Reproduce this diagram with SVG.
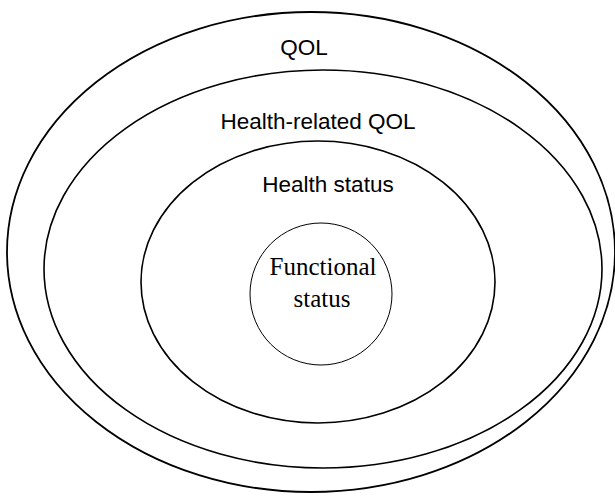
<svg xmlns="http://www.w3.org/2000/svg" width="615" height="496" viewBox="0 0 615 496">
<style>
.e{fill:none;stroke:#000}
.s{font-family:"Liberation Sans",Arial,sans-serif;font-size:22.5px;fill:#000;text-anchor:middle}
.r{font-family:"Liberation Serif","Times New Roman",serif;font-size:25px;fill:#000;text-anchor:middle}
</style>
<rect width="615" height="496" fill="#fff"/>
<g id="qol">
<ellipse class="e" cx="311" cy="252" rx="304" ry="240" stroke-width="1.8"/>
<text class="s" x="304" y="55">QOL</text>
</g>
<g id="hrqol">
<ellipse class="e" cx="323" cy="269" rx="279" ry="199" stroke-width="1.6"/>
<text class="s" x="318" y="129">Health-related QOL</text>
</g>
<g id="health-status">
<ellipse class="e" cx="318" cy="282" rx="177" ry="141" stroke-width="1.6"/>
<text class="s" x="328" y="192">Health status</text>
</g>
<g id="functional-status">
<circle class="e" cx="321" cy="294" r="71" stroke-width="1"/>
<text class="r" x="323" y="275">Functional</text>
<text class="r" x="322" y="307">status</text>
</g>
<g id="connectors"></g>
</svg>
